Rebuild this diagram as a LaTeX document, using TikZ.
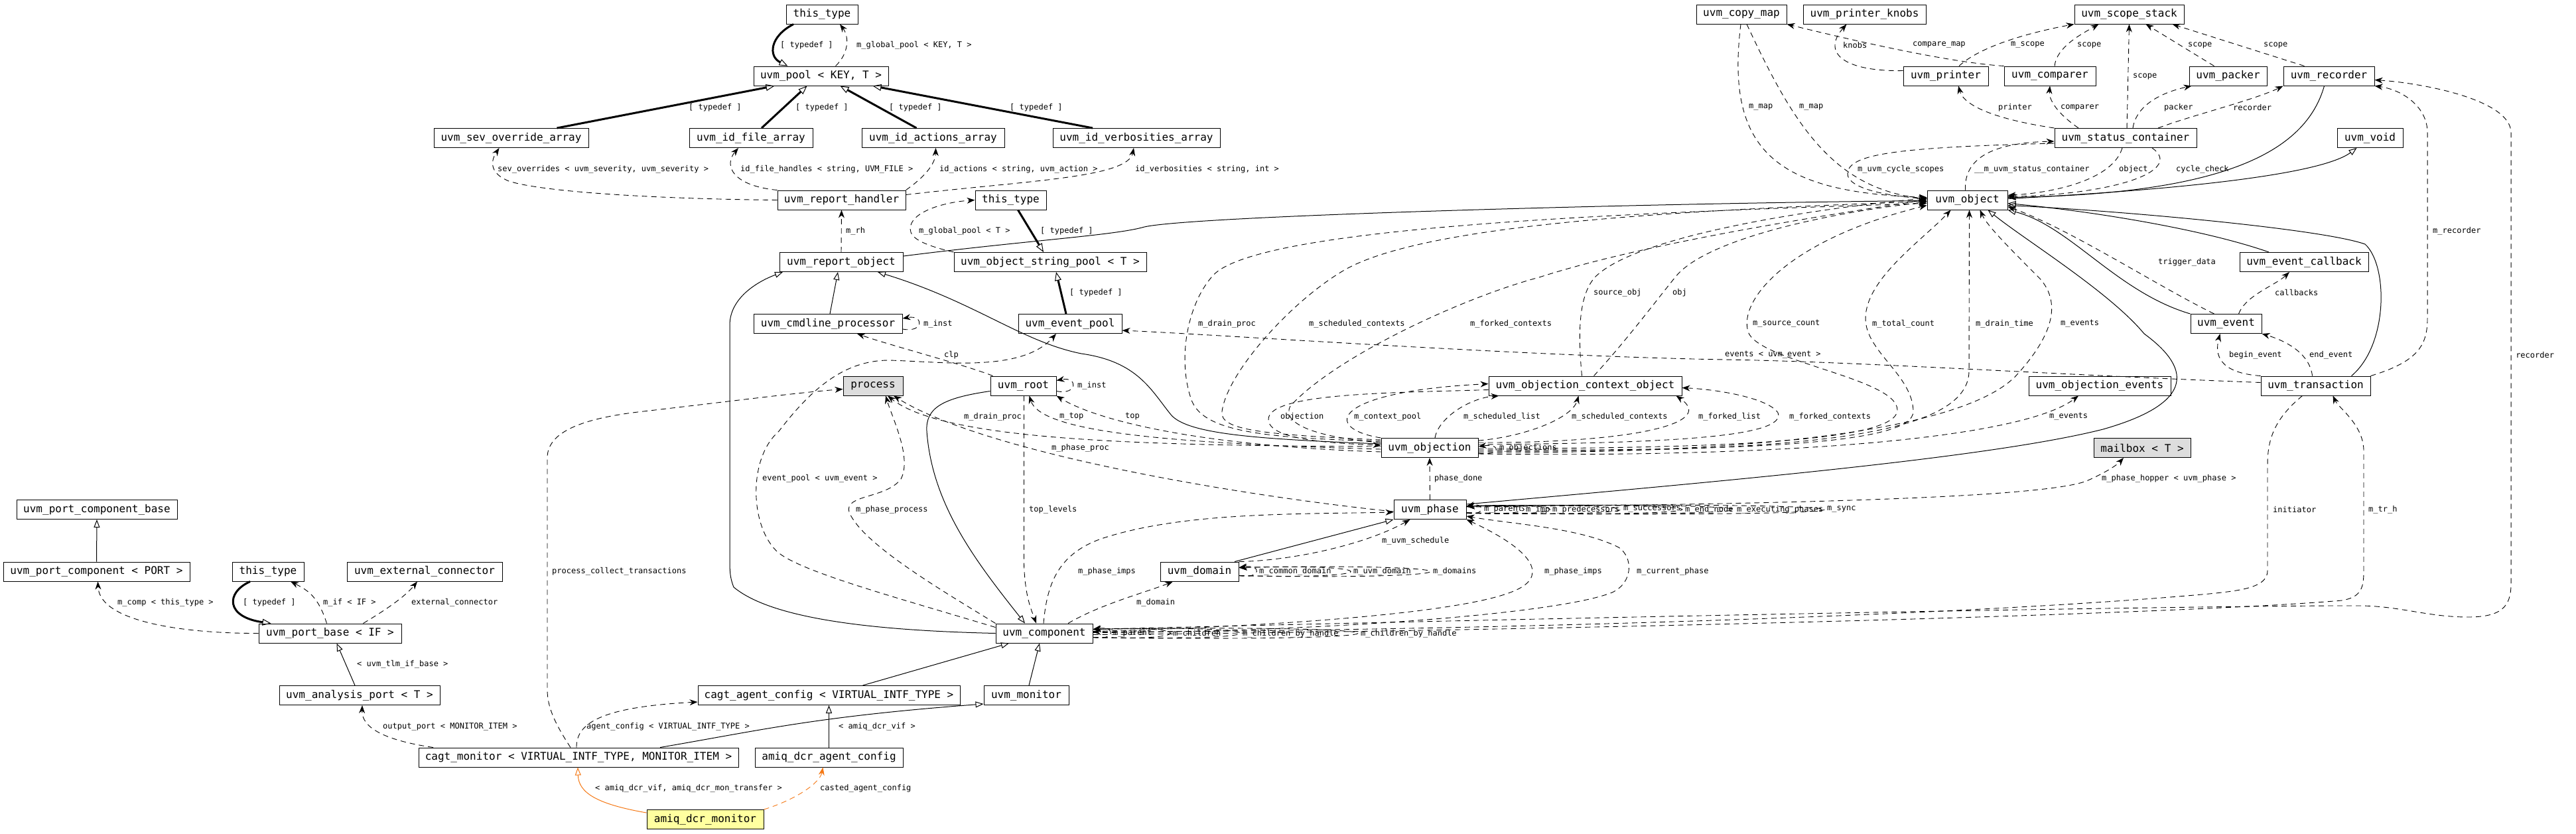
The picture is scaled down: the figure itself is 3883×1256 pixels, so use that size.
\documentclass[tikz,border=0pt]{standalone}
\usepackage{fontspec}
\newfontfamily\dvm{DejaVu Sans Mono}
\usetikzlibrary{arrows.meta}
\definecolor{orng}{RGB}{245,120,20}
\definecolor{gry}{RGB}{221,221,221}
\definecolor{ylw}{RGB}{255,255,160}
\tikzset{
  cls/.style={draw, line width=1pt, fill=white, minimum height=29pt, inner xsep=2pt, inner ysep=0pt, font={\dvm\fontsize{16pt}{18pt}\selectfont}},
  lbl/.style={anchor=west, inner sep=0pt, font={\dvm\fontsize{12pt}{14pt}\selectfont}},
  inh/.style={draw, line width=1pt, -{Triangle[open, length=12pt, width=9pt]}},
  tdef/.style={draw, line width=3pt, -{Triangle[open, length=13pt, width=10pt, line width=1pt]}},
  usel/.style={draw, line width=0.9pt, dash pattern=on 8pt off 6pt, -{Stealth[length=12pt, width=9pt]}},
}
\begin{document}
\begin{tikzpicture}[x=1pt,y=-1pt]
\useasboundingbox (0,0) rectangle (3883,1256);
\fill[white] (0,0) rectangle (3883,1256);

% ---------------- nodes
\node[cls, minimum width=108pt] (tt1) at (1239,21.5) {this\_type};
\node[cls, minimum width=203pt] (pool) at (1237.5,114.5) {uvm\_pool < KEY, T >};
\node[cls, minimum width=233pt] (sev) at (770.5,208) {uvm\_sev\_override\_array};
\node[cls, minimum width=186pt] (idfile) at (1132,208) {uvm\_id\_file\_array};
\node[cls, minimum width=215pt] (idact) at (1406.5,208) {uvm\_id\_actions\_array};
\node[cls, minimum width=252pt] (idverb) at (1713,208) {uvm\_id\_verbosities\_array};
\node[cls, minimum width=193pt] (rh) at (1268.5,301.5) {uvm\_report\_handler};
\node[cls, minimum width=107pt] (tt2) at (1523.5,301.5) {this\_type};
\node[cls, minimum width=186pt] (ro) at (1268,395) {uvm\_report\_object};
\node[cls, minimum width=290pt] (osp) at (1583,395) {uvm\_object\_string\_pool < T >};
\node[cls, minimum width=136pt] (copymap) at (2625,21.5) {uvm\_copy\_map};
\node[cls, minimum width=185pt] (knobs) at (2810.5,21.5) {uvm\_printer\_knobs};
\node[cls, minimum width=165pt] (scope) at (3209.5,21.5) {uvm\_scope\_stack};
\node[cls, minimum width=128pt] (printer) at (2933,114.5) {uvm\_printer};
\node[cls, minimum width=138pt] (comparer) at (3090,114.5) {uvm\_comparer};
\node[cls, minimum width=117pt] (packer) at (3358.5,114.5) {uvm\_packer};
\node[cls, minimum width=137pt] (recorder) at (3510.5,114.5) {uvm\_recorder};
\node[cls, minimum width=214pt] (status) at (3204,208) {uvm\_status\_container};
\node[cls, minimum width=99pt] (void) at (3572.5,208) {uvm\_void};
\node[cls, minimum width=121pt] (object) at (2965.5,301.5) {uvm\_object};
\node[cls, minimum width=194pt] (evcb) at (3473,395) {uvm\_event\_callback};
\node[cls, minimum width=224pt] (cmdline) at (1248,488) {uvm\_cmdline\_processor};
\node[cls, minimum width=156pt] (evpool) at (1613,488) {uvm\_event\_pool};
\node[cls, minimum width=107pt] (event) at (3355.5,488) {uvm\_event};
\node[cls, minimum width=90pt, fill=gry] (process) at (1316,581.5) {process};
\node[cls, minimum width=99pt] (root) at (1542.5,581.5) {uvm\_root};
\node[cls, minimum width=291pt] (oco) at (2389.5,581.5) {uvm\_objection\_context\_object};
\node[cls, minimum width=214pt] (oe) at (3165,581.5) {uvm\_objection\_events};
\node[cls, minimum width=165pt] (trans) at (3490.5,581.5) {uvm\_transaction};
\node[cls, minimum width=146pt] (objection) at (2155,675) {uvm\_objection};
\node[cls, minimum width=146pt, fill=gry] (mailbox) at (3229,675) {mailbox < T >};
\node[cls, minimum width=242pt] (pcb) at (146,768) {uvm\_port\_component\_base};
\node[cls, minimum width=109pt] (phase) at (2155.5,768) {uvm\_phase};
\node[cls, minimum width=281pt] (pc) at (145.5,861.5) {uvm\_port\_component < PORT >};
\node[cls, minimum width=108pt] (tt3) at (404,861.5) {this\_type};
\node[cls, minimum width=234pt] (extconn) at (640,861.5) {uvm\_external\_connector};
\node[cls, minimum width=118pt] (domain) at (1808,861.5) {uvm\_domain};
\node[cls, minimum width=215pt] (pb) at (497.5,954.5) {uvm\_port\_base < IF >};
\node[cls, minimum width=146pt] (comp) at (1574,954.5) {uvm\_component};
\node[cls, minimum width=242pt] (ap) at (542,1048) {uvm\_analysis\_port < T >};
\node[cls, minimum width=395pt] (agentcfg) at (1249.5,1048) {cagt\_agent\_config < VIRTUAL\_INTF\_TYPE >};
\node[cls, minimum width=128pt] (monitor) at (1547,1048) {uvm\_monitor};
\node[cls, minimum width=482pt] (cagtmon) at (872,1141.5) {cagt\_monitor < VIRTUAL\_INTF\_TYPE, MONITOR\_ITEM >};
\node[cls, minimum width=223pt] (dcrcfg) at (1249.5,1141.5) {amiq\_dcr\_agent\_config};
\node[cls, minimum width=176pt, fill=ylw] (dcrmon) at (1063,1235) {amiq\_dcr\_monitor};

% ---------------- top-left cluster
\draw[tdef] ([xshift=-43pt]tt1.south) .. controls (1160,55) and (1158,85) .. ([xshift=-50pt]pool.north);
\draw[usel] ([xshift=22pt]pool.north) .. controls (1280,80) and (1280,55) .. ([xshift=27pt]tt1.south);
\draw[tdef] ([xshift=69pt]sev.north) -- ([xshift=-70pt]pool.south);
\draw[tdef] ([xshift=16pt]idfile.north) -- ([xshift=-21pt]pool.south);
\draw[tdef] ([xshift=-25pt]idact.north) -- ([xshift=29pt]pool.south);
\draw[tdef] ([xshift=-66pt]idverb.north) -- ([xshift=78pt]pool.south);
\draw[usel] (rh.west) .. controls (1000,300) and (820,290) .. (767,273) .. controls (740,262) and (738,245) .. ([xshift=-18pt]sev.south);
\draw[usel] (rh.north west) .. controls (1105,280) and (1090,250) .. ([xshift=-19pt]idfile.south);
\draw[usel] (rh.north east) .. controls (1392,268) and (1410,248) .. ([xshift=4pt]idact.south);
\draw[usel] ([yshift=8pt]rh.east) .. controls (1550,272) and (1700,268) .. ([xshift=-4pt]idverb.south);
\draw[usel] (ro.north) -- (rh.south);
\draw[usel] (osp.north west) .. controls (1395,370) and (1372,360) .. (1372,345) .. controls (1372,320) and (1420,305) .. (tt2.west);
\draw[tdef] ([xshift=11pt]tt2.south) -- ([xshift=-10pt]osp.north);
\draw[tdef] ([xshift=-6pt]evpool.north) -- ([xshift=9pt]osp.south);

% ---------------- top-right cluster
\draw[usel] ([xshift=-1pt]copymap.south) .. controls (2600,230) and (2680,290) .. ([yshift=4pt]object.west);
\draw[usel] ([xshift=8pt]copymap.south) .. controls (2700,180) and (2760,285) .. ([yshift=2pt]object.west);
\draw[usel] ([yshift=8pt]printer.west) .. controls (2780,108) and (2745,80) .. ([xshift=-27pt]knobs.south);
\draw[usel] (comparer.north west) .. controls (2950,95) and (2830,70) .. (copymap.south east);
\draw[usel] ([xshift=20pt]printer.north) .. controls (2990,65) and (3080,45) .. (scope.south west);
\draw[usel] ([xshift=7pt]comparer.north) .. controls (3100,70) and (3140,50) .. ([xshift=-46pt]scope.south);
\draw[usel] ([xshift=2pt]status.north) -- (scope.south);
\draw[usel] ([xshift=-21pt]packer.north) -- ([xshift=25pt]scope.south);
\draw[usel] ([xshift=-37pt]recorder.north) -- ([xshift=65pt]scope.south);
\draw[usel] (status.north west) .. controls (3010,180) and (2960,160) .. ([xshift=19pt]printer.south);
\draw[usel] ([xshift=-71pt]status.north) .. controls (3100,170) and (3088,150) .. (comparer.south);
\draw[usel] ([xshift=11pt]status.north) .. controls (3220,160) and (3255,140) .. ([xshift=-55pt]packer.south);
\draw[usel] ([xshift=49pt]status.north) .. controls (3300,175) and (3400,150) .. (recorder.south west);
\draw[inh] ([xshift=-7pt]recorder.south) .. controls (3475,230) and (3350,292) .. ([yshift=4pt]object.east);
\draw[inh] ([yshift=2pt]object.east) .. controls (3300,285) and (3500,262) .. ([xshift=-20pt]void.south);
\draw[usel] ([xshift=-5pt]status.south) .. controls (3185,270) and (3100,290) .. ([yshift=7pt]object.east);
\draw[usel] ([xshift=40pt]status.south) .. controls (3290,255) and (3200,292) .. ([yshift=5pt]object.east);
\draw[usel] ([xshift=-3pt]object.north) .. controls (2960,235) and (3010,215) .. ([yshift=-5pt]status.west);
\draw[usel] ([yshift=-8pt]status.west) .. controls (2860,222) and (2785,232) .. (2785,262) .. controls (2785,285) and (2850,296) .. ([yshift=2pt]object.west);
\draw[inh] ([xshift=-53pt]evcb.north) .. controls (3320,345) and (3150,318) .. ([yshift=-5pt]object.east);
\draw[inh] ([xshift=54pt]trans.north) .. controls (3600,520) and (3600,400) .. (3565,368) .. controls (3500,345) and (3200,318) .. ([yshift=-8pt]object.east);
\draw[inh] (event.north west) .. controls (3190,440) and (3120,340) .. (object.south east);
\draw[inh] ([yshift=8pt]phase.east) .. controls (2600,725) and (3000,690) .. (3170,647) .. controls (3300,610) and (3310,560) .. (3232,503) .. controls (3180,440) and (3050,360) .. ([xshift=31pt]object.south);
\draw[usel] ([xshift=-18pt]event.north) .. controls (3250,430) and (3120,345) .. ([yshift=-10pt]object.east);
\draw[usel] ([xshift=19pt]event.north) .. controls (3385,445) and (3430,430) .. ([xshift=-22pt]evcb.south);
\draw[usel] (trans.north west) .. controls (3345,562) and (3338,535) .. ([xshift=-9pt]event.south);
\draw[usel] ([xshift=-5pt]trans.north) .. controls (3482,535) and (3450,515) .. (event.south east);
\draw[usel] ([yshift=5pt]trans.west) .. controls (3100,565) and (2800,545) .. (2600,542) .. controls (2300,537) and (1850,505) .. ([yshift=-10pt]evpool.east);
\draw[usel] (trans.north east) .. controls (3645,545) and (3659,520) .. (3659,480) -- (3659,200) .. controls (3659,160) and (3620,135) .. (recorder.south east);
\draw[usel] ([yshift=6pt]comp.east) .. controls (2600,925) and (3400,912) .. (3560,913) .. controls (3620,914) and (3660,930) .. (3720,930) .. controls (3770,930) and (3785,915) .. (3785,880) -- (3785,200) .. controls (3785,150) and (3650,125) .. ([yshift=-6pt]recorder.east);
\draw[usel] ([xshift=-20pt]trans.south) .. controls (3430,630) and (3418,660) .. (3418,700) -- (3418,860) .. controls (3418,885) and (3380,890) .. (3330,895) .. controls (3000,925) and (2300,950) .. ([yshift=2pt]comp.east);
\draw[usel] ([yshift=-2pt]comp.east) .. controls (2400,950) and (3300,925) .. (3530,905) .. controls (3560,900) and (3563,885) .. (3563,860) -- (3563,680) .. controls (3563,640) and (3525,615) .. ([xshift=26pt]trans.south);

% ---------------- objection cluster
\draw[usel] ([yshift=11pt]objection.east) .. controls (2300,658) and (2370,630) .. ([xshift=-10pt]oco.south);
\draw[usel] ([yshift=8pt]objection.east) .. controls (2450,668) and (2590,640) .. ([xshift=137pt]oco.south);
\draw[usel] ([yshift=5pt]objection.east) .. controls (2500,668) and (2695,660) .. (2680,622) .. controls (2665,600) and (2590,587) .. ([yshift=-3pt]oco.east);
\draw[usel] ([yshift=-1pt]objection.east) .. controls (2600,676) and (2860,665) .. (2860,618) .. controls (2860,570) and (2650,545) .. (2635,500) .. controls (2620,450) and (2700,360) .. ([yshift=-8pt]object.west);
\draw[usel] ([yshift=-3pt]objection.east) .. controls (2650,680) and (2885,668) .. (2884,620) .. controls (2883,565) and (2812,530) .. (2812,480) .. controls (2812,420) and (2900,360) .. ([xshift=-25pt]object.south);
\draw[usel] ([yshift=-5pt]objection.east) .. controls (2700,682) and (2966,660) .. (2968,560) -- ([xshift=3pt]object.south);
\draw[usel] ([yshift=-7pt]objection.east) .. controls (2800,684) and (2990,620) .. (3040,565) .. controls (3090,510) and (3110,460) .. (3075,420) .. controls (3030,375) and (2995,340) .. ([xshift=19pt]object.south);
\draw[usel] ([yshift=-9pt]objection.east) .. controls (2700,690) and (3050,660) .. ([xshift=-32pt]oe.south);
\draw[usel] ([yshift=-8pt]objection.east) .. controls (2263,688) and (2263,668) .. ([yshift=2pt]objection.east);
\draw[usel] (objection.north west) .. controls (1990,645) and (2010,590) .. ([yshift=3pt]oco.west);
\draw[usel] ([xshift=8pt]objection.north) .. controls (2168,630) and (2215,600) .. ([xshift=-130pt]oco.south);
\draw[usel] ([yshift=-6pt]oco.west) .. controls (2100,592) and (1912,592) .. (1912,632) .. controls (1912,662) and (2000,668) .. ([yshift=4pt]objection.west);
\draw[usel] ([yshift=10pt]objection.west) .. controls (1900,660) and (1810,650) .. (1795,600) .. controls (1775,540) and (1790,460) .. (1826,418) .. controls (1880,345) and (2400,322) .. ([yshift=-5pt]object.west);
\draw[usel] ([yshift=12pt]objection.west) .. controls (1900,655) and (1838,648) .. (1842,620) .. controls (1850,560) and (1950,450) .. (2030,405) .. controls (2150,340) and (2500,318) .. ([yshift=-2pt]object.west);
\draw[usel] ([yshift=8pt]objection.west) .. controls (1990,660) and (1930,640) .. (1945,612) .. controls (2010,540) and (2200,450) .. (2320,418) .. controls (2500,360) and (2800,318) .. ([yshift=1pt]object.west);
\draw[usel] ([xshift=-5pt]oco.north) .. controls (2378,500) and (2380,445) .. (2404,418) .. controls (2460,360) and (2700,318) .. ([yshift=3pt]object.west);
\draw[usel] ([xshift=13pt]oco.north) .. controls (2450,515) and (2495,455) .. (2525,418) .. controls (2570,360) and (2760,320) .. ([yshift=-3pt]object.west);
\draw[usel] (phase.north) -- (objection.south);
\draw[inh] ([yshift=6pt]objection.west) .. controls (1900,662) and (1790,655) .. (1765,625) .. controls (1735,588) and (1715,545) .. (1630,533) .. controls (1540,515) and (1470,455) .. ([xshift=55pt]ro.south);
\draw[usel] ([yshift=2pt]objection.west) .. controls (1700,672) and (1420,662) .. ([xshift=22pt]process.south);
\draw[usel] ([yshift=-2pt]objection.west) .. controls (1750,668) and (1568,650) .. ([xshift=9pt]root.south);
\draw[usel] ([yshift=-6pt]objection.west) .. controls (1800,672) and (1650,632) .. (root.south east);

% ---------------- report object / root / component
\draw[inh] ([yshift=9pt]ro.east) .. controls (1550,362) and (1680,355) .. (1725,342) .. controls (1800,325) and (2500,306) .. ([yshift=-1pt]object.west);
\draw[inh] ([xshift=3pt]cmdline.north) -- ([xshift=-5pt]ro.south);
\draw[inh] (comp.west) .. controls (1300,950) and (1160,930) .. (1106,885) .. controls (1100,870) and (1100,860) .. (1100,840) -- (1100,490) .. controls (1100,450) and (1140,425) .. ([xshift=-88pt]ro.south);
\draw[inh] ([yshift=-8pt]root.west) .. controls (1420,600) and (1395,615) .. (1397,650) .. controls (1405,760) and (1470,845) .. ([xshift=-29pt]comp.north);
\draw[usel] ([xshift=1pt]root.south) -- (1543.5,850) .. controls (1545,900) and (1555,920) .. ([xshift=-12pt]comp.north);
\draw[usel] ([yshift=-8pt]root.east) .. controls (1625,596) and (1625,567) .. ([yshift=8pt]root.east);
\draw[usel] ([yshift=-8pt]cmdline.east) .. controls (1393,502) and (1393,474) .. ([yshift=8pt]cmdline.east);
\draw[usel] ([xshift=-46pt]root.north) .. controls (1455,550) and (1340,520) .. ([xshift=44pt]cmdline.south);
\draw[usel] ([yshift=9pt]comp.west) .. controls (1350,900) and (1200,860) .. (1170,830) .. controls (1130,790) and (1128,690) .. (1174,650) .. controls (1220,590) and (1270,543) .. (1340,543) .. controls (1420,545) and (1540,562) .. ([xshift=-21pt]evpool.south);
\draw[usel] (comp.north west) .. controls (1420,890) and (1300,820) .. (1280,772) .. controls (1272,745) and (1335,752) .. (1358,722) .. controls (1375,690) and (1345,630) .. ([xshift=19pt]process.south);
\draw[usel] ([yshift=-3pt]phase.west) .. controls (1850,745) and (1480,680) .. ([xshift=31pt]process.south);
\draw[usel] ([xshift=-12pt]cagtmon.north) .. controls (836,1090) and (825,1065) .. (825,1040) -- (825,690) .. controls (825,650) and (880,630) .. (970,620) .. controls (1100,605) and (1200,592) .. ([yshift=-5pt]process.west);

% ---------------- phase / domain / component
\draw[inh] ([xshift=53pt]domain.north) -- (phase.south west);
\draw[usel] (domain.north east) .. controls (1950,845) and (2060,820) .. ([xshift=-30pt]phase.south);
\draw[usel] ([xshift=36pt]comp.north) .. controls (1660,910) and (1730,892) .. ([xshift=-40pt]domain.south);
\draw[usel] ([xshift=-1pt]comp.north) .. controls (1578,880) and (1595,835) .. (1660,812) .. controls (1780,772) and (1950,775) .. ([yshift=-4pt]phase.west);
\draw[usel] ([yshift=3pt]comp.east) .. controls (1900,945) and (2220,925) .. (2290,887) .. controls (2330,866) and (2312,830) .. (phase.south east);
\draw[usel] ([yshift=1pt]comp.east) .. controls (2000,952) and (2350,925) .. (2430,893) .. controls (2462,878) and (2462,840) .. (2440,825) .. controls (2380,795) and (2280,790) .. ([yshift=-10pt]phase.east);
\draw[usel] ([yshift=4pt]phase.east) .. controls (2700,760) and (3080,750) .. (3145,725) .. controls (3175,712) and (3192,700) .. ([xshift=-28pt]mailbox.south);
% self loops: component
\draw[usel] ([yshift=-6pt]comp.east) .. controls (1682,966) and (1682,943) .. ([yshift=6pt]comp.east);
\draw[usel] ([yshift=-6pt]comp.east) .. controls (1802,967) and (1802,942) .. ([yshift=6pt]comp.east);
\draw[usel] ([yshift=-6pt]comp.east) .. controls (1942,968) and (1942,941) .. ([yshift=6pt]comp.east);
\draw[usel] ([yshift=-6pt]comp.east) .. controls (2179,969) and (2179,940) .. ([yshift=6pt]comp.east);
% self loops: domain
\draw[usel] ([yshift=-6pt]domain.east) .. controls (1902,873) and (1902,850) .. ([yshift=6pt]domain.east);
\draw[usel] ([yshift=-6pt]domain.east) .. controls (2091,874) and (2091,849) .. ([yshift=6pt]domain.east);
\draw[usel] ([yshift=-6pt]domain.east) .. controls (2251,875) and (2251,848) .. ([yshift=6pt]domain.east);
% self loops: phase
\draw[usel] ([yshift=-5pt]phase.east) .. controls (2239,779) and (2239,757) .. ([yshift=5pt]phase.east);
\draw[usel] ([yshift=-5pt]phase.east) .. controls (2325,779) and (2325,757) .. ([yshift=5pt]phase.east);
\draw[usel] ([yshift=-5pt]phase.east) .. controls (2377,780) and (2377,756) .. ([yshift=5pt]phase.east);
\draw[usel] ([yshift=-5pt]phase.east) .. controls (2519,780) and (2519,756) .. ([yshift=5pt]phase.east);
\draw[usel] ([yshift=-5pt]phase.east) .. controls (2643,781) and (2643,755) .. ([yshift=5pt]phase.east);
\draw[usel] ([yshift=-5pt]phase.east) .. controls (2747,781) and (2747,755) .. ([yshift=5pt]phase.east);
\draw[usel] ([yshift=-5pt]phase.east) .. controls (2929,782) and (2929,754) .. ([yshift=5pt]phase.east);

% ---------------- bottom-left cluster
\draw[inh] (pc.north) -- (pcb.south);
\draw[usel] (pb.west) .. controls (290,955) and (150,940) .. ([xshift=2pt]pc.south);
\draw[tdef] ([xshift=-27pt]tt3.south) .. controls (340,893) and (340,930) .. ([xshift=-89pt]pb.north);
\draw[usel] ([xshift=-5pt]pb.north) .. controls (480,900) and (465,890) .. ([xshift=34pt]tt3.south);
\draw[usel] ([xshift=50pt]pb.north) .. controls (580,920) and (610,900) .. ([xshift=-11pt]extconn.south);
\draw[inh] ([xshift=-7pt]ap.north) -- ([xshift=10pt]pb.south);
\draw[usel] ([xshift=-219pt]cagtmon.north) .. controls (575,1115) and (545,1095) .. ([xshift=4pt]ap.south);
\draw[usel] ([xshift=-3pt]cagtmon.north) .. controls (868,1085) and (920,1065) .. ([yshift=-10pt]agentcfg.west);
\draw[inh] ([xshift=123pt]cagtmon.north) .. controls (1150,1100) and (1230,1080) .. ([yshift=-13pt]monitor.west);
\draw[inh] (dcrcfg.north) -- (agentcfg.south);
\draw[inh] ([xshift=51pt]agentcfg.north) -- ([xshift=-53pt]comp.south);
\draw[inh] ([xshift=4pt]monitor.north) -- ([xshift=-7pt]comp.south);
\draw[inh, draw=orng] ([yshift=10pt]dcrmon.west) .. controls (900,1212) and (872,1195) .. ([xshift=-1pt]cagtmon.south);
\draw[usel, draw=orng] (dcrmon.north east) .. controls (1200,1205) and (1236,1180) .. ([xshift=-9pt]dcrcfg.south);

% ---------------- labels
\node[lbl] (L1) at (1176,68) {[ typedef ]};
\node[lbl] (L2) at (1291,68) {m\_global\_pool < KEY, T >};
\node[lbl] (L3) at (1038,162) {[ typedef ]};
\node[lbl] (L4) at (1199,162) {[ typedef ]};
\node[lbl] (L5) at (1340,162) {[ typedef ]};
\node[lbl] (L6) at (1522,162) {[ typedef ]};
\node[lbl] (L7) at (750,255) {sev\_overrides < uvm\_severity, uvm\_severity >};
\node[lbl] (L8) at (1116,255) {id\_file\_handles < string, UVM\_FILE >};
\node[lbl] (L9) at (1416,255) {id\_actions < string, uvm\_action >};
\node[lbl] (L10) at (1711,255) {id\_verbosities < string, int >};
\node[lbl] (L11) at (1275,348) {m\_rh};
\node[lbl] (L12) at (1385,348) {m\_global\_pool < T >};
\node[lbl] (L13) at (1568,348) {[ typedef ]};
\node[lbl] (L14) at (1612,441) {[ typedef ]};
\node[lbl] (L15) at (2636,162) {m\_map};
\node[lbl] (L16) at (2712,162) {m\_map};
\node[lbl] (L17) at (2778,68) {knobs};
\node[lbl] (L18) at (2883,68) {compare\_map};
\node[lbl] (L19) at (3031,68) {m\_scope};
\node[lbl] (L20) at (3131,68) {scope};
\node[lbl] (L21) at (3215,115) {scope};
\node[lbl] (L22) at (3298,68) {scope};
\node[lbl] (L23) at (3412,68) {scope};
\node[lbl] (L24) at (3012,162) {printer};
\node[lbl] (L25) at (3106,162) {comparer};
\node[lbl] (L26) at (3262,162) {packer};
\node[lbl] (L27) at (3366,162) {recorder};
\node[lbl] (L28) at (2800,255) {m\_uvm\_cycle\_scopes};
\node[lbl] (L29) at (2976,255) {\_\_m\_uvm\_status\_container};
\node[lbl] (L30) at (3194,255) {object};
\node[lbl] (L31) at (3280,255) {cycle\_check};
\node[lbl] (L32) at (3667,348) {m\_recorder};
\node[lbl] (L33) at (3253,395) {trigger\_data};
\node[lbl] (L34) at (3429,441) {callbacks};
\node[lbl] (L35) at (3360,535) {begin\_event};
\node[lbl] (L36) at (3481,535) {end\_event};
\node[lbl] (L37) at (3792,535) {recorder};
\node[lbl] (L38) at (2600,535) {events < uvm\_event >};
\node[lbl] (L39) at (1806,488) {m\_drain\_proc};
\node[lbl] (L40) at (1973,488) {m\_scheduled\_contexts};
\node[lbl] (L41) at (2216,488) {m\_forked\_contexts};
\node[lbl] (L42) at (2402,441) {source\_obj};
\node[lbl] (L43) at (2521,441) {obj};
\node[lbl] (L44) at (2642,488) {m\_source\_count};
\node[lbl] (L45) at (2822,488) {m\_total\_count};
\node[lbl] (L46) at (2978,488) {m\_drain\_time};
\node[lbl] (L47) at (3106,488) {m\_events};
\node[lbl] (L48) at (3089,628) {m\_events};
\node[lbl] (L49) at (1930,628) {objection};
\node[lbl] (L50) at (2041,628) {m\_context\_pool};
\node[lbl] (L51) at (2206,628) {m\_scheduled\_list};
\node[lbl] (L52) at (2369,628) {m\_scheduled\_contexts};
\node[lbl] (L53) at (2560,628) {m\_forked\_list};
\node[lbl] (L54) at (2697,628) {m\_forked\_contexts};
\node[lbl] (L55) at (2260,675) {m\_objections};
\node[lbl] (L56) at (2162,721) {phase\_done};
\node[lbl] (L57) at (3168,721) {m\_phase\_hopper < uvm\_phase >};
\node[lbl] (L58) at (3426,768) {initiator};
\node[lbl] (L59) at (3570,768) {m\_tr\_h};
\node[lbl] (L60) at (2083,815) {m\_uvm\_schedule};
\node[lbl] (L61) at (1625,861) {m\_phase\_imps};
\node[lbl] (L62) at (1713,908) {m\_domain};
\node[lbl] (L63) at (2328,861) {m\_phase\_imps};
\node[lbl] (L64) at (2467,861) {m\_current\_phase};
\node[lbl] (L65) at (1423,535) {clp};
\node[lbl] (L66) at (1392,488) {m\_inst};
\node[lbl] (L67) at (1624,581.5) {m\_inst};
\node[lbl] (L68) at (1453,628) {m\_drain\_proc};
\node[lbl] (L69) at (1597,628) {m\_top};
\node[lbl] (L70) at (1696,628) {top};
\node[lbl] (L71) at (1585,675) {m\_phase\_proc};
\node[lbl] (L72) at (1149,721) {event\_pool < uvm\_event >};
\node[lbl] (L73) at (1290,768) {m\_phase\_process};
\node[lbl] (L74) at (1551,768) {top\_levels};
\node[lbl] (L75) at (832,861) {process\_collect\_transactions};
\node[lbl] (L76) at (1678,955) {m\_parent};
\node[lbl] (L77) at (1768,955) {m\_children};
\node[lbl] (L78) at (1873,955) {m\_children\_by\_handle};
\node[lbl] (L79) at (2051,955) {m\_children\_by\_handle};
\node[lbl] (L80) at (1898,861.5) {m\_common\_domain};
\node[lbl] (L81) at (2040,861.5) {m\_uvm\_domain};
\node[lbl] (L82) at (2160,861.5) {m\_domains};
\node[lbl] (L83) at (2237,768) {m\_parent};
\node[lbl] (L84) at (2300,768) {m\_imp};
\node[lbl] (L85) at (2340,768) {m\_predecessors};
\node[lbl] (L86) at (2447,768) {m\_successors};
\node[lbl] (L87) at (2540,768) {m\_end\_node};
\node[lbl] (L88) at (2618,768) {m\_executing\_phases};
\node[lbl] (L89) at (2754,768) {m\_sync};
\node[lbl] (L90) at (177,908) {m\_comp < this\_type >};
\node[lbl] (L91) at (366,908) {[ typedef ]};
\node[lbl] (L92) at (487,908) {m\_if < IF >};
\node[lbl] (L93) at (620,908) {external\_connector};
\node[lbl] (L94) at (538,1001) {< uvm\_tlm\_if\_base >};
\node[lbl] (L95) at (577,1095) {output\_port < MONITOR\_ITEM >};
\node[lbl] (L96) at (884,1095) {agent\_config < VIRTUAL\_INTF\_TYPE >};
\node[lbl] (L97) at (1264,1095) {< amiq\_dcr\_vif >};
\node[lbl] (L98) at (897,1188) {< amiq\_dcr\_vif, amiq\_dcr\_mon\_transfer >};
\node[lbl] (L99) at (1236,1188) {casted\_agent\_config};
\end{tikzpicture}
\end{document}
